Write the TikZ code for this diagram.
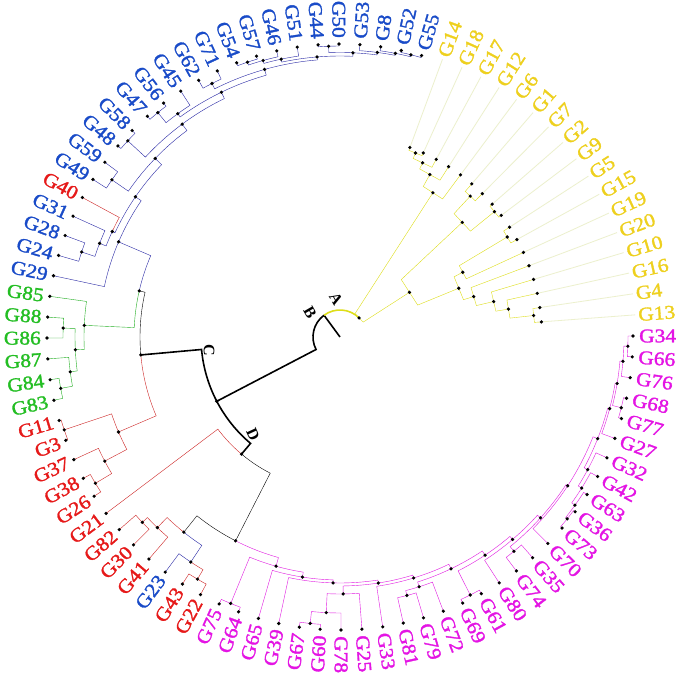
\documentclass[tikz,border=0pt]{standalone}
\usepackage{fontspec}
\usepackage{graphicx}
\setmainfont{Liberation Serif}
\newfontfamily\labfont{Liberation Serif}[BoldFont={Liberation Serif},BoldFeatures={FakeBold=1.5}]
\usetikzlibrary{calc}
\pgfdeclarelayer{dots}
\pgfsetlayers{main,dots}
\definecolor{lblue}{RGB}{40,40,165}
\definecolor{tblue}{RGB}{25,75,200}
\definecolor{lred}{RGB}{205,35,35}
\definecolor{tred}{RGB}{230,25,25}
\definecolor{lgreen}{RGB}{35,175,35}
\definecolor{tgreen}{RGB}{35,190,35}
\definecolor{lmag}{RGB}{225,25,225}
\definecolor{tmag}{RGB}{228,20,228}
\definecolor{lyel}{RGB}{222,222,25}
\definecolor{tyel}{RGB}{238,208,30}
\definecolor{lfaint}{RGB}{236,240,205}
% polar point from tip index k and radius r
\newcommand{\PP}[2]{({0.2-4.0909*(#1)}:#2)}
% edge: parent (k,r) -> child (k,r)
\newcommand{\ed}[5]{\draw[#1] \PP{#2}{#3} arc[start angle={0.2-4.0909*(#2)}, end angle={0.2-4.0909*(#4)}, radius=#3] -- \PP{#4}{#5};}
\newcommand{\dt}[2]{\begin{pgfonlayer}{dots}\fill \PP{#1}{#2} circle (1.8);\end{pgfonlayer}}
\newcommand{\dtc}[1]{\begin{pgfonlayer}{dots}\fill (#1) circle (1.8);\end{pgfonlayer}}
% internal node of the fan part
\newcommand{\nd}[8]{\ed{#3}{#1}{#2}{#4}{#5}\ed{#6}{#1}{#2}{#7}{#8}\dt{#1}{#2}}
% internal node of the yellow part (straight chords)
\newcommand{\ynd}[6]{\path \PP{#4}{#2} coordinate (#1-s) \PP{#6}{#2} coordinate (#1-e);
  \coordinate (#1) at ($(#1-s)!0.5!(#1-e)$);
  \draw[lyel] (#3) -- (#1-s) -- (#1-e) -- (#5); \dtc{#1}}
\newcommand{\labR}[3]{\path \PP{#1}{299} node[lab,text=#3,anchor=west,rotate={0.2-4.0909*(#1)}] (L#2) {\scalebox{1.1}[1]{#2}};}
\newcommand{\labL}[3]{\path \PP{#1}{299} node[lab,text=#3,anchor=east,rotate={180.2-4.0909*(#1)}] (L#2) {\scalebox{1.1}[1]{#2}};}
\tikzset{lab/.style={font=\labfont\bfseries\fontsize{19.5}{19.5}\selectfont, inner sep=0pt, text height=12.9pt, text depth=0pt},
  clab/.style={font=\bfseries\fontsize{16}{16}\selectfont, inner sep=0pt}}
\begin{document}
\begin{tikzpicture}[x=1pt,y=1pt,line width=1.6pt]
\useasboundingbox (-340,-339) rectangle (345,337);
\fill[white] (-340,-339) rectangle (345,337);
% root
\draw (0,0) -- \PP{57.18}{27};
\ed{black}{57.18}{27}{37.315}{139}
\draw[lyel] \PP{57.18}{27} arc[start angle={0.2-4.0909*57.18}, end angle={0.2-4.0909*77.06}, radius=27];
% B, C, D, E, F
\nd{37.315}{139}{black}{42.79}{200}{black}{31.84}{153}
\nd{42.79}{200}{black}{47.21}{206}{lred}{38.375}{241}
\nd{47.21}{206}{lblue}{49.733}{241}{lgreen}{44.6875}{256}
% blue
\nd{49.733}{241}{lblue}{47}{293}{lblue}{52.466}{248}
\nd{52.466}{248}{lblue}{50.125}{251}{lblue}{54.807}{257}
\nd{50.125}{251}{lblue}{49.25}{258}{lred}{51}{293}
\nd{49.25}{258}{lblue}{48.5}{272}{lblue}{50}{293}
\nd{48.5}{272}{lblue}{48}{293}{lblue}{49}{293}
\nd{54.807}{257}{lblue}{52.5}{277}{lblue}{57.113}{265}
\nd{52.5}{277}{lblue}{52}{293}{lblue}{53}{293}
\nd{57.113}{265}{lblue}{54.5}{289}{lblue}{59.727}{272}
\nd{54.5}{289}{lblue}{54}{293}{lblue}{55}{293}
\nd{59.727}{272}{lblue}{57.25}{276}{lblue}{62.203}{278}
\nd{57.25}{276}{lblue}{56.5}{289}{lblue}{58}{293}
\nd{56.5}{289}{lblue}{56}{293}{lblue}{57}{293}
\nd{62.203}{278}{lblue}{59.5}{284}{lblue}{64.906}{281}
\nd{59.5}{284}{lblue}{59}{293}{lblue}{60}{293}
\nd{64.906}{281}{lblue}{63.125}{284}{lblue}{66.6875}{284.5}
\nd{63.125}{284}{lblue}{62.25}{287}{lblue}{64}{293}
\nd{62.25}{287}{lblue}{61.5}{290}{lblue}{63}{293}
\nd{61.5}{290}{lblue}{61}{293}{lblue}{62}{293}
\nd{66.6875}{284.5}{lblue}{65.5}{291}{lblue}{67.875}{287}
\nd{65.5}{291}{lblue}{65}{293}{lblue}{66}{293}
\nd{67.875}{287}{lblue}{67}{293}{lblue}{68.75}{289}
\nd{68.75}{289}{lblue}{68}{293}{lblue}{69.5}{291}
\nd{69.5}{291}{lblue}{69}{293}{lblue}{70}{293}
% green
\nd{44.6875}{256}{lgreen}{46}{293}{lgreen}{43.375}{265}
\nd{43.375}{265}{lgreen}{44.5}{277}{lgreen}{42.25}{272}
\nd{44.5}{277}{lgreen}{44}{293}{lgreen}{45}{293}
\nd{42.25}{272}{lgreen}{43}{293}{lgreen}{41.5}{284}
\nd{41.5}{284}{lgreen}{41}{293}{lgreen}{42}{293}
% red
\nd{38.375}{241}{lred}{39.5}{291}{lred}{37.25}{266}
\nd{39.5}{291}{lred}{39}{293}{lred}{40}{293}
\nd{37.25}{266}{lred}{38}{293}{lred}{36.5}{285}
\nd{36.5}{285}{lred}{36}{293}{lred}{37}{293}
\nd{31.84}{153}{lred}{35}{293}{black}{28.68}{229}
\nd{28.68}{229}{black}{31.5}{250}{lmag}{25.86}{238}
\nd{31.5}{250}{lred}{32.75}{264}{lblue}{30.25}{270}
\nd{32.75}{264}{lred}{33.5}{271}{lred}{32}{293}
\nd{33.5}{271}{lred}{33}{293}{lred}{34}{293}
\nd{30.25}{270}{lblue}{31}{293}{lred}{29.5}{281}
\nd{29.5}{281}{lred}{29}{293}{lred}{30}{293}
% magenta
\nd{25.86}{238}{lmag}{27.5}{288}{lmag}{24.221}{243}
\nd{27.5}{288}{lmag}{27}{293}{lmag}{28}{293}
\nd{24.221}{243}{lmag}{26}{293}{lmag}{22.443}{246}
\nd{22.443}{246}{lmag}{25}{293}{lmag}{19.885}{249}
\nd{19.885}{249}{lmag}{21.875}{257}{lmag}{17.896}{252}
\nd{21.875}{257}{lmag}{22.75}{276}{lmag}{21}{293}
\nd{22.75}{276}{lmag}{23.5}{288}{lmag}{22}{293}
\nd{23.5}{288}{lmag}{23}{293}{lmag}{24}{293}
\nd{17.896}{252}{lmag}{20}{293}{lmag}{15.791}{257}
\nd{15.791}{257}{lmag}{17.75}{262}{lmag}{13.832}{262}
\nd{17.75}{262}{lmag}{17}{293}{lmag}{18.5}{267}
\nd{18.5}{267}{lmag}{18}{293}{lmag}{19}{293}
\nd{13.832}{262}{lmag}{15.5}{289}{lmag}{12.164}{266}
\nd{15.5}{289}{lmag}{15}{293}{lmag}{16}{293}
\nd{12.164}{266}{lmag}{14}{293}{lmag}{10.328}{270}
\nd{10.328}{270}{lmag}{12.5}{276}{lmag}{8.156}{272}
\nd{12.5}{276}{lmag}{12}{293}{lmag}{13}{293}
\nd{8.156}{272}{lmag}{11}{293}{lmag}{5.3125}{277}
\nd{5.3125}{277}{lmag}{6.9375}{281}{lmag}{3.6875}{279}
\nd{6.9375}{281}{lmag}{6}{293}{lmag}{7.875}{285}
\nd{7.875}{285}{lmag}{7}{293}{lmag}{8.75}{289}
\nd{8.75}{289}{lmag}{8}{293}{lmag}{9.5}{291}
\nd{9.5}{291}{lmag}{9}{293}{lmag}{10}{293}
\nd{3.6875}{279}{lmag}{5}{293}{lmag}{2.375}{281}
\nd{2.375}{281}{lmag}{3.5}{290}{lmag}{1.25}{284}
\nd{3.5}{290}{lmag}{3}{293}{lmag}{4}{293}
\nd{1.25}{284}{lmag}{2}{293}{lmag}{0.5}{288}
\nd{0.5}{288}{lmag}{0}{293}{lmag}{1}{293}
\foreach \k in {0,...,70} {\dt{\k}{293}}
% yellow
\foreach \k/\n in {71/G14,72/G18,73/G17,74/G12,75/G6,76/G1,77/G7,78/G2,79/G9,80/G5,81/G15,82/G19,83/G20,84/G10,85/G16,86/G4,87/G13}
  {\path \PP{\k}{202} coordinate (\n); \dt{\k}{202}
   \draw[lfaint,line width=0.8pt] \PP{\k}{203} -- \PP{\k}{296};}
\ynd{n1}{199}{G14}{71}{G18}{72}
\ynd{n2}{193}{n1}{71.5}{G17}{73}
\ynd{n3}{186}{n2}{72.25}{G12}{74}
\ynd{Y1}{172}{n3}{73.125}{G6}{75}
\ynd{Y3a}{192}{G1}{76}{G7}{77}
\ynd{Y3b}{199}{G2}{78}{G9}{79}
\ynd{Y3}{168}{Y3a}{76.5}{Y3b}{78.5}
\ynd{Y5a}{195}{G5}{80}{G15}{81}
\ynd{Y5}{139}{Y5a}{80.5}{G19}{82}
\ynd{Y9}{195}{G4}{86}{G13}{87}
\ynd{Y8}{171}{G16}{85}{Y9}{86.5}
\ynd{Y7}{158}{G10}{84}{Y8}{85.75}
\ynd{Y6}{140}{G20}{83}{Y7}{84.875}
\ynd{Y4}{129}{Y5}{81.25}{Y6}{83.9375}
\ynd{Y2}{84}{Y3}{77.5}{Y4}{82.59}
\ynd{A}{27.6}{Y1}{74.06}{Y2}{80.05}
% labels
\foreach \k/\n in {0/G34,1/G66,2/G76,3/G68,4/G77,5/G27,6/G32,7/G42,8/G63,9/G36,10/G73,11/G70,12/G35,13/G74,14/G80,15/G61,16/G69,17/G72,18/G79,19/G81,20/G33,21/G25,22/G78}
  {\labR{\k}{\n}{tmag}}
\foreach \k/\n in {23/G60,24/G67,25/G39,26/G65,27/G64,28/G75}
  {\labL{\k}{\n}{tmag}}
\foreach \k/\n in {29/G22,30/G43,32/G41,33/G30,34/G82,35/G21,36/G26,37/G38,38/G37,39/G3,40/G11,51/G40}
  {\labL{\k}{\n}{tred}}
\foreach \k/\n in {41/G83,42/G84,43/G87,44/G86,45/G88,46/G85}
  {\labL{\k}{\n}{tgreen}}
\foreach \k/\n in {31/G23,47/G29,48/G24,49/G28,50/G31,52/G49,53/G59,54/G48,55/G58,56/G47,57/G56,58/G45,59/G62,60/G71,61/G54,62/G57,63/G46,64/G51,65/G44,66/G50}
  {\labL{\k}{\n}{tblue}}
\foreach \k/\n in {67/G53,68/G8,69/G52,70/G55}
  {\labR{\k}{\n}{tblue}}
\foreach \k/\n in {71/G14,72/G18,73/G17,74/G12,75/G6,76/G1,77/G7,78/G2,79/G9,80/G5,81/G15,82/G19,83/G20,84/G10,85/G16,86/G4,87/G13}
  {\labR{\k}{\n}{tyel}}
% clade letters
\node[clab,rotate=-60] (lA) at (-4,38) {A};
\node[clab,rotate=-60] (lB) at (-30,24) {B};
\node[clab,rotate=-90] (lC) at (-131,-13) {C};
\node[clab,rotate=-65] (lD) at (-87,-98) {D};
\end{tikzpicture}
\end{document}
